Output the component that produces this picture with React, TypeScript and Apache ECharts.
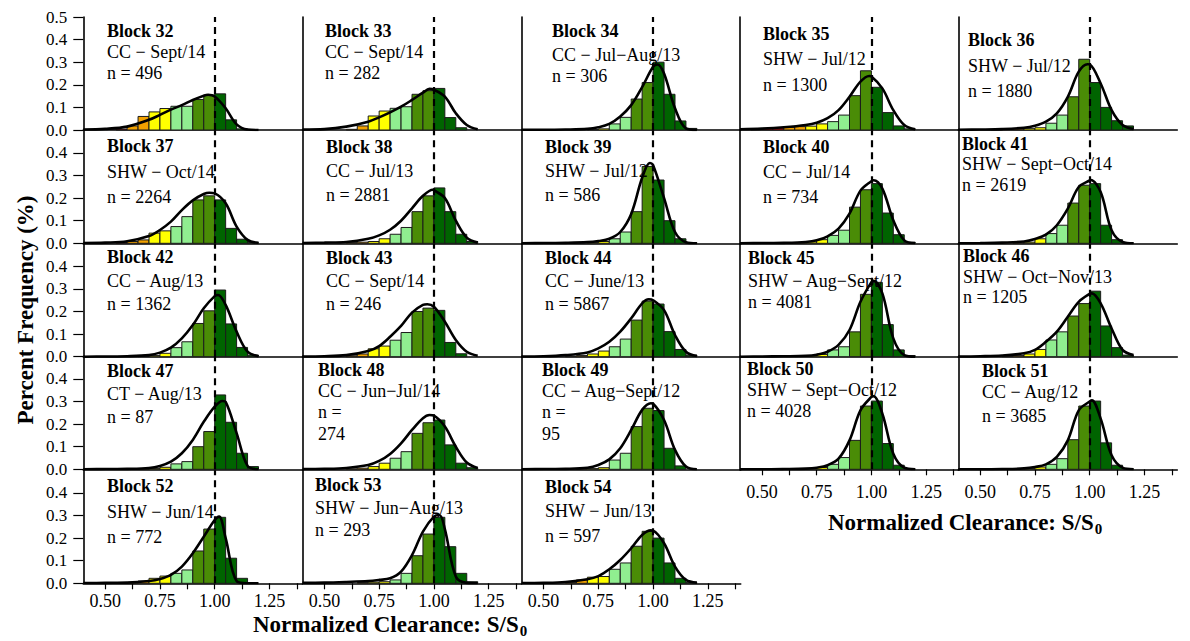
import React, { useEffect, useRef } from "react";
import * as echarts from "echarts";

// ---------------- data ----------------
const BIN_START = [0.45, 0.5, 0.55, 0.6, 0.65, 0.7, 0.75, 0.8, 0.85, 0.9, 0.95, 1.0, 1.05, 1.1, 1.15];
const BIN_WIDTH = 0.05;
const CURVE_X = [0.4, 0.5, 0.6, 0.7, 0.75, 0.8, 0.85, 0.9, 0.95, 1.0, 1.05, 1.1, 1.15, 1.2];
const X_LABELS = [0.5, 0.75, 1.0, 1.25];
const X_TICKS = [0.5, 0.625, 0.75, 0.875, 1.0, 1.125, 1.25, 1.375];
const Y_TICKS_TOP = [0, 0.1, 0.2, 0.3, 0.4, 0.5];
const Y_TICKS = [0, 0.1, 0.2, 0.3, 0.4];
const REFERENCE_S = 1.0;

const BLOCK_IDS = [32, 33, 34, 35, 36, 37, 38, 39, 40, 41, 42, 43, 44, 45, 46, 47, 48, 49, 50, 51, 52, 53, 54];
const SUBTITLES = [
  "CC − Sept/14", "CC − Sept/14", "CC − Jul−Aug/13", "SHW − Jul/12", "SHW − Jul/12",
  "SHW − Oct/14", "CC − Jul/13", "SHW − Jul/12", "CC − Jul/14", "SHW − Sept−Oct/14",
  "CC − Aug/13", "CC − Sept/14", "CC − June/13", "SHW − Aug−Sept/12", "SHW − Oct−Nov/13",
  "CT − Aug/13", "CC − Jun−Jul/14", "CC − Aug−Sept/12", "SHW − Sept−Oct/12", "CC − Aug/12",
  "SHW − Jun/14", "SHW − Jun−Aug/13", "SHW − Jun/13",
];
const SAMPLE_SIZES = [496, 282, 306, 1300, 1880, 2264, 2881, 586, 734, 2619, 1362, 246, 5867, 4081, 1205, 87, 274, 95, 4028, 3685, 772, 293, 597];
const SPLIT_N = [48, 49];

const BARS_32 = [0, 0, 0.004, 0.018, 0.06, 0.08, 0.095, 0.105, 0.105, 0.135, 0.155, 0.16, 0.045, 0.005, 0];
const BARS_33 = [0, 0, 0, 0.003, 0.018, 0.062, 0.084, 0.096, 0.103, 0.158, 0.174, 0.184, 0.055, 0.01, 0];
const BARS_34 = [0, 0, 0, 0, 0, 0.002, 0.005, 0.027, 0.056, 0.137, 0.21, 0.3, 0.158, 0.04, 0.007];
const BARS_35 = [0.003, 0.007, 0.01, 0.012, 0.015, 0.017, 0.027, 0.037, 0.066, 0.152, 0.262, 0.189, 0.077, 0.018, 0.005];
const BARS_36 = [0, 0, 0.002, 0.003, 0.004, 0.006, 0.01, 0.03, 0.066, 0.147, 0.313, 0.21, 0.1, 0.041, 0.018];
const BARS_37 = [0, 0, 0.003, 0.008, 0.015, 0.045, 0.055, 0.074, 0.118, 0.192, 0.21, 0.192, 0.066, 0.018, 0.003];
const BARS_38 = [0, 0, 0, 0.003, 0.005, 0.008, 0.02, 0.04, 0.07, 0.14, 0.21, 0.245, 0.14, 0.04, 0.008];
const BARS_39 = [0, 0, 0, 0, 0, 0.003, 0.008, 0.02, 0.05, 0.14, 0.34, 0.28, 0.1, 0.02, 0.003];
const BARS_40 = [0, 0, 0, 0, 0.003, 0.006, 0.016, 0.035, 0.058, 0.16, 0.237, 0.264, 0.134, 0.038, 0.005];
const BARS_41 = [0, 0, 0, 0, 0.002, 0.005, 0.02, 0.043, 0.08, 0.178, 0.257, 0.264, 0.08, 0.016, 0.002];
const BARS_42 = [0, 0, 0, 0, 0.002, 0.005, 0.015, 0.04, 0.066, 0.147, 0.203, 0.295, 0.145, 0.041, 0.007];
const BARS_43 = [0, 0, 0, 0.004, 0.012, 0.035, 0.047, 0.073, 0.107, 0.2, 0.215, 0.205, 0.063, 0.013, 0];
const BARS_44 = [0, 0, 0, 0.002, 0.005, 0.012, 0.025, 0.044, 0.078, 0.162, 0.246, 0.233, 0.111, 0.032, 0.007];
const BARS_45 = [0, 0, 0, 0, 0.002, 0.004, 0.01, 0.03, 0.044, 0.11, 0.276, 0.329, 0.142, 0.03, 0.005];
const BARS_46 = [0, 0, 0, 0.002, 0.005, 0.012, 0.032, 0.074, 0.11, 0.18, 0.235, 0.29, 0.136, 0.04, 0.007];
const BARS_47 = [0, 0, 0, 0, 0.002, 0.004, 0.009, 0.024, 0.034, 0.1, 0.167, 0.329, 0.208, 0.071, 0.012];
const BARS_48 = [0, 0, 0, 0.002, 0.005, 0.012, 0.027, 0.049, 0.078, 0.159, 0.206, 0.218, 0.108, 0.027, 0.007];
const BARS_49 = [0, 0, 0, 0, 0.002, 0.003, 0.007, 0.041, 0.071, 0.189, 0.27, 0.26, 0.093, 0.015, 0];
const BARS_50 = [0, 0, 0, 0, 0, 0.002, 0.008, 0.022, 0.052, 0.128, 0.28, 0.302, 0.114, 0.018, 0.002];
const BARS_51 = [0, 0, 0, 0, 0, 0.003, 0.01, 0.022, 0.047, 0.131, 0.28, 0.302, 0.117, 0.018, 0.002];
const BARS_52 = [0, 0, 0, 0.003, 0.01, 0.022, 0.032, 0.044, 0.059, 0.143, 0.24, 0.292, 0.111, 0.022, 0];
const BARS_53 = [0, 0, 0, 0, 0.003, 0.005, 0.007, 0.015, 0.044, 0.122, 0.218, 0.292, 0.162, 0.044, 0.007];
const BARS_54 = [0, 0, 0, 0.004, 0.015, 0.027, 0.03, 0.062, 0.09, 0.164, 0.23, 0.2, 0.09, 0.022, 0.003];

const CURVE_32 = [0.002, 0.005, 0.015, 0.045, 0.067, 0.09, 0.11, 0.133, 0.152, 0.148, 0.096, 0.025, 0.002, 0];
const CURVE_33 = [0.002, 0.004, 0.015, 0.037, 0.056, 0.078, 0.103, 0.133, 0.165, 0.178, 0.148, 0.074, 0.022, 0.003];
const CURVE_34 = [0.001, 0.001, 0.002, 0.005, 0.012, 0.027, 0.06, 0.11, 0.19, 0.28, 0.25, 0.096, 0.007, 0];
const CURVE_35 = [0.003, 0.006, 0.012, 0.022, 0.032, 0.052, 0.088, 0.147, 0.214, 0.237, 0.184, 0.088, 0.022, 0.003];
const CURVE_36 = [0.001, 0.002, 0.004, 0.01, 0.019, 0.037, 0.074, 0.147, 0.258, 0.29, 0.206, 0.088, 0.022, 0.004];
const CURVE_37 = [0.001, 0.003, 0.009, 0.032, 0.059, 0.096, 0.147, 0.19, 0.218, 0.221, 0.177, 0.074, 0.015, 0.002];
const CURVE_38 = [0.001, 0.003, 0.006, 0.02, 0.035, 0.06, 0.1, 0.155, 0.21, 0.235, 0.2, 0.1, 0.025, 0.003];
const CURVE_39 = [0, 0.001, 0.002, 0.005, 0.01, 0.02, 0.05, 0.13, 0.29, 0.345, 0.2, 0.05, 0.005, 0];
const CURVE_40 = [0, 0.001, 0.002, 0.006, 0.013, 0.031, 0.065, 0.131, 0.233, 0.275, 0.242, 0.102, 0.013, 0];
const CURVE_41 = [0, 0.001, 0.003, 0.008, 0.019, 0.038, 0.08, 0.153, 0.249, 0.278, 0.227, 0.058, 0.006, 0];
const CURVE_42 = [0, 0.001, 0.002, 0.007, 0.018, 0.04, 0.081, 0.14, 0.214, 0.268, 0.229, 0.111, 0.022, 0.002];
const CURVE_43 = [0.001, 0.002, 0.007, 0.025, 0.047, 0.088, 0.136, 0.195, 0.229, 0.221, 0.155, 0.074, 0.022, 0.004];
const CURVE_44 = [0.001, 0.002, 0.007, 0.019, 0.037, 0.066, 0.111, 0.17, 0.236, 0.25, 0.206, 0.096, 0.022, 0.003];
const CURVE_45 = [0, 0.001, 0.002, 0.004, 0.009, 0.022, 0.052, 0.118, 0.243, 0.33, 0.28, 0.081, 0.007, 0];
const CURVE_46 = [0.001, 0.002, 0.005, 0.015, 0.03, 0.066, 0.111, 0.177, 0.243, 0.278, 0.236, 0.125, 0.03, 0.007];
const CURVE_47 = [0, 0.001, 0.002, 0.006, 0.015, 0.034, 0.071, 0.13, 0.21, 0.277, 0.298, 0.16, 0.015, 0];
const CURVE_48 = [0.001, 0.002, 0.006, 0.019, 0.037, 0.068, 0.115, 0.174, 0.226, 0.237, 0.189, 0.1, 0.03, 0.006];
const CURVE_49 = [0, 0.001, 0.002, 0.007, 0.019, 0.044, 0.093, 0.174, 0.263, 0.29, 0.218, 0.086, 0.012, 0];
const CURVE_50 = [0, 0, 0.001, 0.003, 0.007, 0.018, 0.047, 0.128, 0.261, 0.32, 0.246, 0.069, 0.007, 0];
const CURVE_51 = [0, 0, 0.001, 0.004, 0.01, 0.022, 0.055, 0.128, 0.261, 0.3, 0.224, 0.062, 0.007, 0];
const CURVE_52 = [0.001, 0.002, 0.003, 0.01, 0.019, 0.037, 0.074, 0.133, 0.206, 0.28, 0.2, 0.01, 0, 0];
const CURVE_53 = [0.002, 0.003, 0.006, 0.01, 0.015, 0.022, 0.052, 0.125, 0.229, 0.295, 0.24, 0.03, 0.002, 0];
const CURVE_54 = [0.001, 0.002, 0.006, 0.018, 0.032, 0.062, 0.103, 0.155, 0.214, 0.233, 0.177, 0.074, 0.015, 0.003];

// curve maximum: [S/S0, frequency]
const PEAKS = [
  [0.97, 0.156], [0.98, 0.182], [1.02, 0.29], [0.99, 0.239], [0.99, 0.291],
  [0.975, 0.224], [0.995, 0.237], [0.985, 0.355], [1.01, 0.279], [1.005, 0.28],
  [1.015, 0.273], [0.97, 0.232], [0.98, 0.254], [1.01, 0.336], [1.01, 0.28],
  [1.035, 0.302], [0.98, 0.24], [0.99, 0.292], [1.01, 0.323], [1.01, 0.305],
  [1.02, 0.295], [1.025, 0.302], [0.99, 0.234],
];

const ALL_BARS = [BARS_32, BARS_33, BARS_34, BARS_35, BARS_36, BARS_37, BARS_38, BARS_39, BARS_40, BARS_41, BARS_42, BARS_43, BARS_44, BARS_45, BARS_46, BARS_47, BARS_48, BARS_49, BARS_50, BARS_51, BARS_52, BARS_53, BARS_54];
const ALL_CURVES = [CURVE_32, CURVE_33, CURVE_34, CURVE_35, CURVE_36, CURVE_37, CURVE_38, CURVE_39, CURVE_40, CURVE_41, CURVE_42, CURVE_43, CURVE_44, CURVE_45, CURVE_46, CURVE_47, CURVE_48, CURVE_49, CURVE_50, CURVE_51, CURVE_52, CURVE_53, CURVE_54];

// ---------------- layout & style ----------------
const FONT = '"Liberation Serif", "Times New Roman", serif';
const COL_LEFT = [83.3, 302.5, 521.7, 740, 958.3];
const ROW_BASE = [130, 243.3, 356.7, 469.3, 583.3];
const PANEL_W = 219;
const PANEL_H = 113;
const X_MIN = 0.4;
const X_MAX = 1.4;
const BIN_COLORS = ["#b50000", "#f2a100", "#ffff00", "#90ee90", "#4a8c06", "#006400"];
// [x, baseline line1, line2, line3, (line4)]
const LABEL_POS = [
  [107, 37, 58, 79], [325, 37, 58, 79], [552, 37, 61, 82], [763, 40, 65, 91], [968, 46, 72, 97],
  [107, 152, 178, 203], [326, 153, 177, 201], [545, 153, 177, 201], [763, 153, 178, 203], [962, 150, 170, 191],
  [107, 263, 287, 310], [326, 264, 287, 310], [545, 264, 287, 310], [748, 264, 287, 308], [963, 262, 283, 303],
  [107, 377, 400, 423], [318, 376, 397, 418, 440], [542, 376, 397, 418, 440], [747, 375, 396, 417], [982, 377, 398, 422],
  [107, 492, 518, 543], [315, 491, 514, 536], [545, 493, 517, 542],
];

function colorIndex(b: number) {
  if (b < 0.6 - 1e-9) return 0;
  if (b < 0.7 - 1e-9) return 1;
  if (b < 0.8 - 1e-9) return 2;
  if (b < 0.9 - 1e-9) return 3;
  if (b < 1.0 - 1e-9) return 4;
  return 5;
}

function textEl(str: string, x: number, baseline: number, size: number, bold: boolean, rotate = 0) {
  return {
    type: "text",
    x,
    y: baseline - 0.34 * size,
    rotation: rotate,
    silent: true,
    z: 10,
    style: {
      text: str,
      fill: "#000",
      fontFamily: FONT,
      fontSize: size,
      fontWeight: bold ? "bold" : "normal",
      textAlign: "left",
      align: "left",
      textVerticalAlign: "middle",
      verticalAlign: "middle",
    },
  };
}

function measure(str: string, font: string) {
  const c = document.createElement("canvas").getContext("2d");
  if (!c) return str.length * 10;
  c.font = font;
  return c.measureText(str).width;
}

function buildOption() {
  const grid: any[] = [];
  const xAxis: any[] = [];
  const yAxis: any[] = [];
  const series: any[] = [];
  const graphic: any[] = [];

  BLOCK_IDS.forEach((id, i) => {
    const row = Math.floor(i / 5);
    const col = i % 5;
    const base = ROW_BASE[row];
    const isBottom = row === 4 || (row === 3 && col >= 3);
    grid.push({ left: COL_LEFT[col], top: base - PANEL_H, width: PANEL_W, height: PANEL_H, containLabel: false });
    xAxis.push({
      type: "value",
      gridIndex: i,
      min: X_MIN,
      max: X_MAX,
      axisLine: { show: true, onZero: false, lineStyle: { color: "#000", width: 1.6 } },
      axisTick: { show: isBottom, customValues: X_TICKS, length: 6, lineStyle: { color: "#000", width: 1.2 } },
      axisLabel: {
        show: isBottom,
        customValues: X_LABELS,
        formatter: (v: number) => v.toFixed(2),
        fontFamily: FONT,
        fontSize: 18,
        color: "#000",
        margin: row === 4 ? 9 : 14,
      },
      splitLine: { show: false },
    });
    const yt = row === 0 ? Y_TICKS_TOP : Y_TICKS;
    yAxis.push({
      type: "value",
      gridIndex: i,
      min: 0,
      max: 0.5,
      axisLine: { show: true, onZero: false, lineStyle: { color: "#000", width: 1.6 } },
      axisTick: { show: col === 0, customValues: yt, length: 10, lineStyle: { color: "#000", width: 1.2 } },
      axisLabel: {
        show: col === 0,
        customValues: yt,
        formatter: (v: number) => v.toFixed(1),
        fontFamily: FONT,
        fontSize: 17,
        color: "#000",
        margin: 16,
      },
      splitLine: { show: false },
    });

    const bars = ALL_BARS[i];
    const barData = BIN_START.map((b, k) => [b, bars[k], colorIndex(b)]).filter((d) => d[1] > 0);
    series.push({
      type: "custom",
      xAxisIndex: i,
      yAxisIndex: i,
      silent: true,
      z: 2,
      encode: { x: 0, y: 1 },
      data: barData,
      renderItem: (_p: any, api: any) => {
        const x0 = api.value(0);
        const h = api.value(1);
        const c = api.value(2);
        const p0 = api.coord([x0, h]);
        const p1 = api.coord([x0 + BIN_WIDTH, 0]);
        return {
          type: "rect",
          shape: { x: p0[0], y: p0[1], width: p1[0] - p0[0], height: p1[1] - p0[1] },
          style: { fill: BIN_COLORS[c], stroke: "#1b1b1b", lineWidth: 1 },
        };
      },
    });

    const curve = ALL_CURVES[i];
    const pts: number[][] = CURVE_X.map((x, k) => [x, curve[k]]);
    const pk = PEAKS[i];
    if (!pts.some((p) => Math.abs(p[0] - pk[0]) < 1e-6)) pts.push([pk[0], pk[1]]);
    pts.sort((a, b) => a[0] - b[0]);
    series.push({
      type: "line",
      xAxisIndex: i,
      yAxisIndex: i,
      silent: true,
      z: 4,
      data: pts,
      smooth: 0.35,
      symbol: "none",
      showSymbol: false,
      lineStyle: { color: "#000", width: 2.6 },
      markLine: {
        silent: true,
        symbol: ["none", "none"],
        label: { show: false },
        lineStyle: { color: "#000", type: [7, 5], width: 2.2 },
        emphasis: { disabled: true },
        data: [{ xAxis: REFERENCE_S }],
      },
    });

    // panel texts
    const pos = LABEL_POS[i];
    const lines = [`Block ${id}`, SUBTITLES[i]];
    if (SPLIT_N.includes(id)) {
      lines.push("n =", `${SAMPLE_SIZES[i]}`);
    } else {
      lines.push(`n = ${SAMPLE_SIZES[i]}`);
    }
    lines.forEach((t, k) => {
      graphic.push(textEl(t, pos[0], pos[k + 1], 18, k === 0));
    });
  });

  // axis titles
  graphic.push({
    type: "text",
    x: 25,
    y: 310,
    rotation: Math.PI / 2,
    silent: true,
    style: {
      text: "Percent Frequency (%)",
      fill: "#000",
      fontFamily: FONT,
      fontSize: 23,
      fontWeight: "bold",
      textAlign: "center",
      align: "center",
      textVerticalAlign: "middle",
      verticalAlign: "middle",
    },
  });
  const title = "Normalized Clearance: S/S";
  const tw = measure(title, `bold 23px ${FONT}`);
  [
    [253, 632],
    [828, 530],
  ].forEach(([x, b]) => {
    graphic.push(textEl(title, x, b, 23, true));
    graphic.push(textEl("0", x + tw + 1, b + 4, 15, true));
  });

  return {
    animation: false,
    backgroundColor: "#fff",
    grid,
    xAxis,
    yAxis,
    series,
    graphic,
  };
}

export default function App() {
  const ref = useRef<HTMLDivElement>(null);
  useEffect(() => {
    if (!ref.current) return;
    const chart = echarts.init(ref.current, null, { renderer: "svg" });
    chart.setOption(buildOption() as any);
    return () => chart.dispose();
  }, []);
  return (
    <div
      ref={ref}
      style={{ position: "absolute", left: 0, top: 0, width: 1190, height: 641, background: "#fff" }}
    />
  );
}
